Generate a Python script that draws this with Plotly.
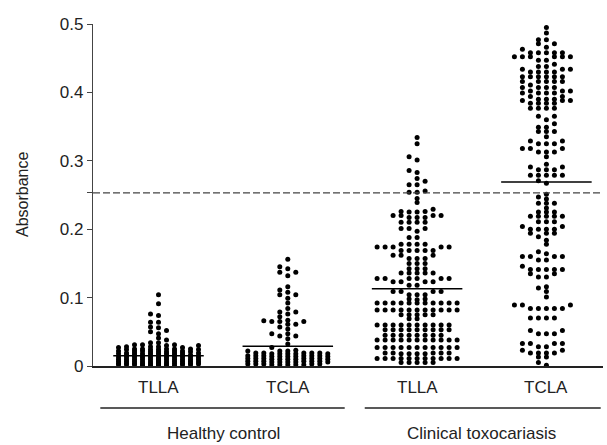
import plotly.graph_objects as go

# ---------------- data ----------------
categories = ["TLLA", "TCLA", "TLLA", "TCLA"]
groups = ["Healthy control", "Clinical toxocariasis"]
y_tick_values = [0, 0.1, 0.2, 0.3, 0.4, 0.5]
y_tick_labels = ["0", "0.1", "0.2", "0.3", "0.4", "0.5"]
cutoff = 0.253
center_lines = [0.015, 0.029, 0.113, 0.269]

healthy_tlla = [
    0.104, 0.091, 0.076, 0.074, 0.064, 0.064, 0.057, 0.056, 0.052, 0.050, 0.047, 0.041, 0.038,
    0.034, 0.034,
    0.031, 0.031, 0.030, 0.031, 0.030,
    0.028, 0.028, 0.027, 0.028, 0.027,
    0.025, 0.025, 0.024, 0.025, 0.024, 0.025, 0.024, 0.025, 0.024,
    0.022, 0.021, 0.022, 0.021, 0.022, 0.021, 0.022, 0.021, 0.022,
    0.019, 0.018, 0.019, 0.018, 0.019, 0.018, 0.019, 0.018, 0.019, 0.018,
    0.016, 0.015, 0.016, 0.015, 0.016, 0.015, 0.016, 0.015, 0.016, 0.015,
    0.013, 0.012, 0.013, 0.012, 0.013, 0.012, 0.013, 0.012, 0.013, 0.012, 0.013,
    0.010, 0.010, 0.009, 0.010, 0.009, 0.010, 0.009, 0.010, 0.009, 0.010, 0.009, 0.010,
    0.007, 0.007, 0.006, 0.007, 0.006, 0.007, 0.006, 0.007, 0.006, 0.007, 0.006, 0.007,
    0.004, 0.004, 0.003, 0.004, 0.003, 0.004, 0.003, 0.004, 0.003, 0.004, 0.003, 0.004,
    0.002, 0.001, 0.002, 0.001, 0.002, 0.001, 0.002, 0.001, 0.002, 0.001,
]

healthy_tcla = [
    0.156, 0.145, 0.142, 0.137, 0.137, 0.132, 0.116, 0.111, 0.108, 0.104, 0.104, 0.099,
    0.092, 0.084, 0.079, 0.079, 0.076, 0.072, 0.067, 0.065, 0.065, 0.066, 0.065, 0.061,
    0.061, 0.057, 0.054, 0.047, 0.047, 0.044, 0.044, 0.040, 0.032, 0.027,
    0.022, 0.022, 0.023, 0.022,
    0.019, 0.018, 0.019, 0.018, 0.019, 0.018, 0.019, 0.018, 0.019, 0.018,
    0.015, 0.014, 0.015, 0.014, 0.015, 0.014, 0.015, 0.014, 0.015, 0.014, 0.015,
    0.011, 0.010, 0.011, 0.010, 0.011, 0.010, 0.011, 0.010, 0.011, 0.010, 0.011,
    0.007, 0.006, 0.007, 0.006, 0.007, 0.006, 0.007, 0.006, 0.007, 0.006, 0.007,
    0.003, 0.002, 0.003, 0.002, 0.003, 0.002, 0.003, 0.002, 0.003, 0.002,
]

clinical_tlla = [
    0.334, 0.325, 0.306, 0.301, 0.286, 0.283, 0.274, 0.270, 0.265, 0.265, 0.256, 0.254,
    0.254, 0.245, 0.239, 0.229, 0.226, 0.226, 0.225, 0.225, 0.220, 0.220, 0.220, 0.220,
    0.217, 0.217, 0.217, 0.210, 0.210, 0.210, 0.210, 0.201, 0.201, 0.201, 0.197, 0.188, 0.188,
    0.178, 0.178, 0.178, 0.178,
    0.174, 0.174, 0.174, 0.174, 0.174,
    0.169, 0.169, 0.169, 0.169, 0.169,
    0.162, 0.162, 0.162, 0.157, 0.157, 0.157, 0.150, 0.150, 0.150,
    0.142, 0.142, 0.142,
    0.136, 0.136, 0.136, 0.136, 0.136,
    0.128, 0.128, 0.128, 0.128, 0.128, 0.128,
    0.123, 0.123, 0.123, 0.123, 0.118, 0.118,
    0.109, 0.109, 0.109, 0.109, 0.104, 0.104, 0.104, 0.098, 0.097, 0.098,
    0.092, 0.092, 0.092, 0.092, 0.092, 0.092, 0.092, 0.092, 0.092, 0.092, 0.092,
    0.082, 0.082, 0.082, 0.082, 0.082, 0.082, 0.082, 0.082, 0.082, 0.082, 0.082,
    0.075, 0.075, 0.075, 0.075, 0.075, 0.069, 0.069,
    0.060, 0.060, 0.060, 0.060, 0.060, 0.060, 0.060, 0.060, 0.060, 0.060,
    0.053, 0.053, 0.053, 0.053, 0.053, 0.053, 0.053, 0.053, 0.053,
    0.045, 0.045, 0.045, 0.045, 0.045, 0.045, 0.045, 0.045,
    0.038, 0.038, 0.038, 0.038, 0.038, 0.038, 0.038, 0.038, 0.038, 0.038, 0.038,
    0.027, 0.027, 0.027, 0.027, 0.027, 0.027, 0.027, 0.027, 0.027, 0.027, 0.027,
    0.019, 0.018, 0.019, 0.018, 0.019, 0.018, 0.019, 0.018, 0.019,
    0.011, 0.011, 0.011, 0.011, 0.011, 0.011, 0.011, 0.011, 0.011, 0.011, 0.011,
    0.005, 0.005, 0.005, 0.005, 0.005,
]

clinical_tcla = [
    0.495, 0.487, 0.477, 0.477, 0.471, 0.471, 0.466, 0.463,
    0.458, 0.458, 0.458, 0.458, 0.458,
    0.452, 0.452, 0.452, 0.452, 0.452, 0.452,
    0.447, 0.447, 0.441, 0.438, 0.438, 0.434, 0.434, 0.434,
    0.430, 0.430, 0.430, 0.430,
    0.423, 0.423, 0.423, 0.423, 0.423, 0.423,
    0.416, 0.416, 0.416, 0.416, 0.416, 0.411,
    0.407, 0.407, 0.407, 0.407, 0.402, 0.402, 0.402,
    0.399, 0.399, 0.399, 0.399, 0.394, 0.394,
    0.390, 0.390, 0.390, 0.388, 0.388, 0.388,
    0.384, 0.384, 0.384, 0.384, 0.377, 0.377, 0.377, 0.377,
    0.365, 0.365, 0.360, 0.354, 0.349, 0.349, 0.343, 0.343, 0.343, 0.335,
    0.329, 0.329, 0.325, 0.325, 0.325, 0.318, 0.318, 0.318, 0.313, 0.313, 0.313,
    0.306, 0.295, 0.291, 0.291, 0.287, 0.287, 0.287,
    0.279, 0.279, 0.279, 0.279, 0.279, 0.271, 0.267,
    0.251, 0.247, 0.244, 0.238, 0.238, 0.238, 0.231, 0.225, 0.225, 0.225,
    0.219, 0.219, 0.219, 0.219, 0.219, 0.211, 0.211, 0.211, 0.204, 0.204,
    0.200, 0.200, 0.200, 0.200, 0.194, 0.194, 0.194, 0.189, 0.184, 0.178,
    0.167, 0.164, 0.160, 0.160, 0.160, 0.160, 0.155, 0.155, 0.146,
    0.141, 0.141, 0.141, 0.141, 0.141, 0.135, 0.135, 0.130, 0.130,
    0.116, 0.114, 0.109, 0.101, 0.089, 0.089, 0.089,
    0.084, 0.084, 0.084, 0.084, 0.084, 0.070, 0.070, 0.070, 0.070,
    0.052, 0.052, 0.047, 0.047, 0.047, 0.033, 0.033, 0.033, 0.033,
    0.028, 0.028, 0.023, 0.023, 0.019, 0.019, 0.019, 0.019, 0.013, 0.013, 0.005, 0.001,
]

series = [healthy_tlla, healthy_tcla, clinical_tlla, clinical_tcla]

# ---------------- layout constants (pixels) ----------------
W, H = 607, 445
M_L, M_R, M_T, M_B = 93, 4, 24, 79
PLOT_W = W - M_L - M_R
PLOT_H = H - M_T - M_B
Y_MAX = 0.5
X_RANGE = [-0.5066, 3.4377]
PX_PER_CAT = PLOT_W / (X_RANGE[1] - X_RANGE[0])
PX_PER_Y = PLOT_H / Y_MAX
FONT = "Liberation Sans, Arial, Helvetica, sans-serif"
TXT = "#222"


def swarm_offsets(values, col_px=8.0, min_dy_px=3.8, max_cols=5):
    """Grid beeswarm: each dot goes to the nearest free column (capped width)."""
    cols = [0]
    for k in range(1, max_cols + 1):
        cols += [-k, k]
    placed = {c: [] for c in cols}
    offs = [0.0] * len(values)
    order = sorted(range(len(values)), key=lambda i: values[i])
    for i in order:
        y = values[i] * PX_PER_Y
        chosen, best_c, best_gap = None, 0, -1.0
        for c in cols:
            gap = min([abs(y - p) for p in placed[c]], default=1e9)
            if gap >= min_dy_px:
                chosen = c
                break
            if gap > best_gap:
                best_gap, best_c = gap, c
        if chosen is None:
            chosen = best_c
        placed[chosen].append(y)
        offs[i] = chosen * col_px / PX_PER_CAT
    return offs


fig = go.Figure()
for ci, vals in enumerate(series):
    offs = swarm_offsets(vals)
    fig.add_trace(go.Scatter(
        x=[ci + o for o in offs], y=vals, mode="markers",
        marker=dict(size=5, color="black", line=dict(width=0)),
        cliponaxis=False, showlegend=False, hoverinfo="y",
    ))

shapes = []
# centre lines
for ci, v in enumerate(center_lines):
    shapes.append(dict(type="line", xref="x", yref="y", x0=ci - 0.35, x1=ci + 0.35,
                       y0=v, y1=v, line=dict(color="black", width=1.5)))
# cutoff dashed line
shapes.append(dict(type="line", xref="paper", yref="y", x0=0, x1=1, y0=cutoff, y1=cutoff,
                   line=dict(color="#444", width=1.3, dash="7px,3px")))
# group underlines
line_y = -(408 - 366) / PLOT_H
group_spans = [(-0.45, 1.44), (1.595, 3.42)]
for (a, b) in group_spans:
    shapes.append(dict(type="line", xref="x", yref="paper", x0=a, x1=b, y0=line_y, y1=line_y,
                       line=dict(color="#222", width=1.3)))

annotations = []
for ci, c in enumerate(categories):
    annotations.append(dict(x=ci, y=-(387 - 366) / PLOT_H, xref="x", yref="paper", text=c,
                            showarrow=False, xanchor="center", yanchor="middle",
                            font=dict(size=17, color=TXT, family=FONT)))
for gi, g in enumerate(groups):
    annotations.append(dict(x=gi * 2 + 0.5, y=-(434 - 366) / PLOT_H, xref="x", yref="paper",
                            text=g, showarrow=False, xanchor="center", yanchor="middle",
                            font=dict(size=17, color=TXT, family=FONT)))
annotations.append(dict(x=(22 - M_L) / PLOT_W, y=0.5, xref="paper", yref="paper",
                        text="Absorbance", textangle=-90, showarrow=False,
                        xanchor="center", yanchor="middle",
                        font=dict(size=16, color=TXT, family=FONT)))

fig.update_layout(
    width=W, height=H,
    margin=dict(l=M_L, r=M_R, t=M_T, b=M_B),
    paper_bgcolor="white", plot_bgcolor="white",
    shapes=shapes, annotations=annotations,
    xaxis=dict(range=X_RANGE, showgrid=False, zeroline=False, showline=True,
               linecolor="#222", linewidth=2, ticks="", showticklabels=False),
    yaxis=dict(range=[0, Y_MAX], showgrid=False, zeroline=False, showline=True,
               linecolor="#444", linewidth=1.3, ticks="outside", ticklen=5, tickwidth=1.2,
               tickcolor="#444",
               tickvals=y_tick_values + [cutoff], ticktext=y_tick_labels + [""],
               tickfont=dict(size=17, color=TXT, family=FONT)),
)

fig.write_html("out.html", config={"displayModeBar": False},
               post_script="document.body.style.margin='0px';")
